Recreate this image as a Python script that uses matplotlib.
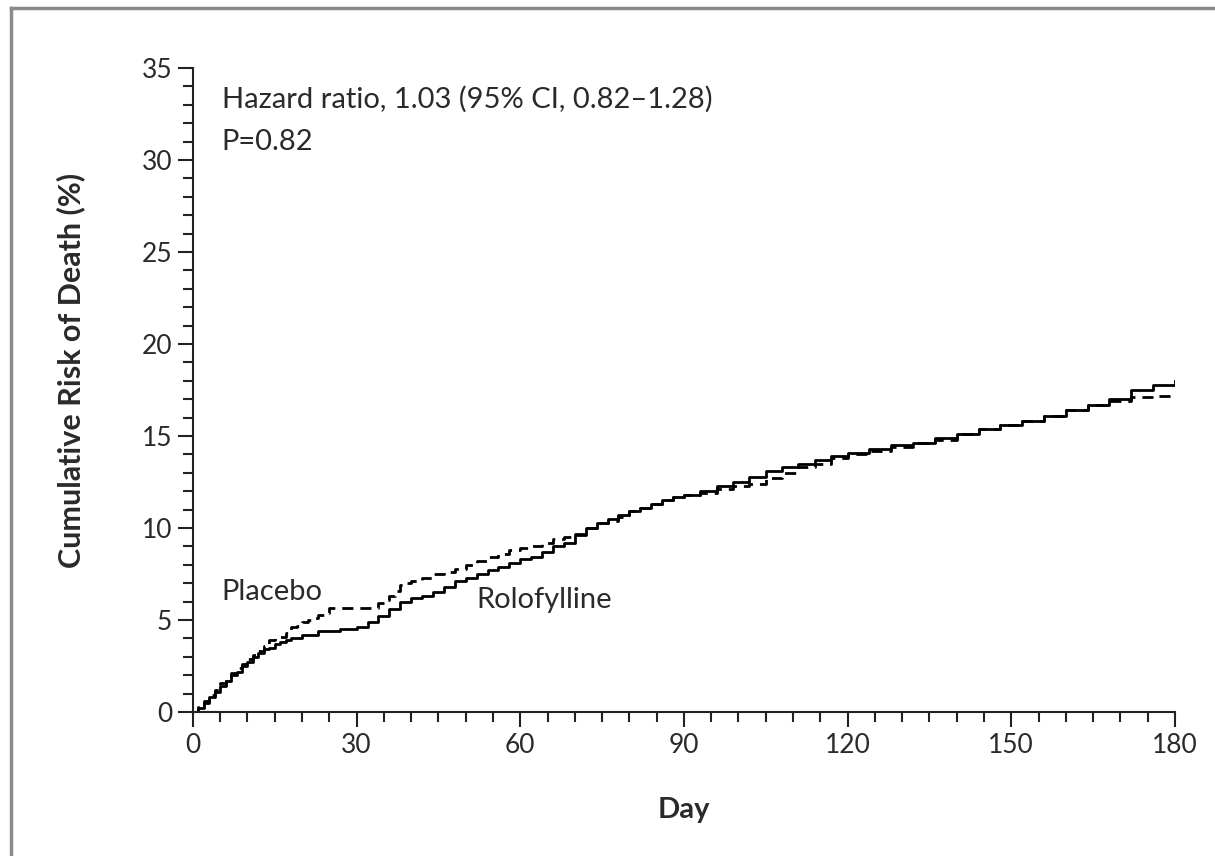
import matplotlib
matplotlib.use("Agg")
import matplotlib.pyplot as plt
from matplotlib.lines import Line2D
from matplotlib.ticker import MultipleLocator

# Placebo (dashed) Kaplan-Meier estimates
placebo_day = [0, 1, 2, 3, 4, 5, 6, 7, 8, 9, 10, 11, 12, 13, 14, 15, 16, 17, 18, 19,
               20, 21, 22, 23, 24, 25, 34, 35, 36, 37, 38, 39, 40, 42, 44, 46, 48, 50,
               52, 54, 56, 58, 60, 62, 64, 66, 68, 70, 72, 74, 76, 78, 80, 82, 84, 86,
               88, 90, 93, 96, 99, 102, 105, 108, 111, 114, 117, 120, 124, 128, 132,
               136, 140, 144, 148, 152, 156, 160, 164, 168, 172, 176, 180]
placebo_risk = [0, 0.3, 0.6, 0.9, 1.2, 1.6, 1.9, 2.1, 2.4, 2.6, 2.9, 3.1, 3.3, 3.6, 3.9,
                4.0, 4.1, 4.3, 4.6, 4.7, 4.9, 5.0, 5.1, 5.3, 5.4, 5.65, 5.9, 6.1, 6.3,
                6.6, 6.9, 7.0, 7.1, 7.3, 7.5, 7.6, 7.8, 8.0, 8.2, 8.4, 8.6, 8.8, 8.9,
                9.0, 9.2, 9.4, 9.5, 9.7, 10.0, 10.3, 10.4, 10.6, 10.9, 11.1, 11.3, 11.5,
                11.7, 11.8, 11.9, 12.1, 12.3, 12.4, 12.7, 13.0, 13.3, 13.5, 13.8, 14.0,
                14.2, 14.4, 14.6, 14.8, 15.1, 15.4, 15.6, 15.8, 16.1, 16.4, 16.7, 16.9,
                17.1, 17.2, 17.3]

# Rolofylline (solid)
rolo_day = [0, 1, 2, 3, 4, 5, 6, 7, 8, 9, 10, 11, 12, 13, 14, 15, 16, 17, 18, 20, 23,
            27, 30, 32, 34, 36, 38, 40, 42, 44, 46, 48, 50, 52, 54, 56, 58, 60, 62, 64,
            66, 68, 70, 72, 74, 76, 78, 80, 82, 84, 86, 88, 90, 93, 96, 99, 102, 105,
            108, 111, 114, 117, 120, 124, 128, 132, 136, 140, 144, 148, 152, 156, 160,
            164, 168, 172, 176, 180]
rolo_risk = [0, 0.2, 0.5, 0.8, 1.1, 1.4, 1.7, 2.0, 2.2, 2.5, 2.7, 3.0, 3.2, 3.4, 3.5,
             3.7, 3.8, 3.9, 4.0, 4.2, 4.4, 4.5, 4.6, 4.9, 5.2, 5.6, 6.0, 6.2, 6.3, 6.5,
             6.8, 7.1, 7.3, 7.5, 7.7, 7.9, 8.1, 8.3, 8.4, 8.7, 9.0, 9.2, 9.6, 10.0, 10.3,
             10.5, 10.7, 10.9, 11.1, 11.3, 11.5, 11.7, 11.8, 12.0, 12.3, 12.5, 12.8, 13.1,
             13.3, 13.5, 13.7, 13.9, 14.1, 14.3, 14.5, 14.6, 14.9, 15.1, 15.4, 15.6, 15.8,
             16.1, 16.4, 16.7, 17.0, 17.5, 17.8, 18.0]

x_ticks = [0, 30, 60, 90, 120, 150, 180]
y_ticks = [0, 5, 10, 15, 20, 25, 30, 35]

text_color = "#2a2a2a"
plt.rcParams["font.family"] = ["Lato", "DejaVu Sans"]

fig = plt.figure(figsize=(12.15, 8.56), dpi=100)
ax = fig.add_axes([0.1588, 0.1682, 0.8082, 0.7523])

ax.step(placebo_day, placebo_risk, where="post", color="black", linewidth=2,
        linestyle=(0, (4, 2.5)))
ax.step(rolo_day, rolo_risk, where="post", color="black", linewidth=2)

ax.set_xlim(0, 180)
ax.set_ylim(0, 35)
ax.set_xticks(x_ticks)
ax.set_yticks(y_ticks)
ax.xaxis.set_minor_locator(MultipleLocator(5))
ax.yaxis.set_minor_locator(MultipleLocator(1))

for side in ["top", "right"]:
    ax.spines[side].set_visible(False)
for side in ["left", "bottom"]:
    ax.spines[side].set_linewidth(1.5)
    ax.spines[side].set_color("#222222")

ax.tick_params(which="major", length=11, width=1.5, color="#222222",
               labelsize=19, labelcolor=text_color, pad=4)
ax.tick_params(which="minor", length=7, width=1.5, color="#222222")

ax.set_xlabel("Day", fontsize=21, fontweight="bold", color=text_color, labelpad=28)
ax.set_ylabel("Cumulative Risk of Death (%)", fontsize=22, fontweight="bold",
              color=text_color)
ax.yaxis.set_label_coords(-0.11, 0.53)

ax.text(5.3, 33.3, "Hazard ratio, 1.03 (95% CI, 0.82\u20131.28)", fontsize=21,
        color=text_color, va="center", ha="left")
ax.text(5.3, 31.0, "P=0.82", fontsize=21, color=text_color, va="center", ha="left")
ax.text(5.3, 6.5, "Placebo", fontsize=21, color=text_color, va="center", ha="left")
ax.text(51.9, 6.1, "Rolofylline", fontsize=21, color=text_color, va="center", ha="left")

# grey frame of the figure panel (only top and left edges are visible)
fig.add_artist(Line2D([11 / 1215, 1.0], [1 - 8 / 856, 1 - 8 / 856],
                      transform=fig.transFigure, color="#8a8a8a", linewidth=2.5))
fig.add_artist(Line2D([11 / 1215, 11 / 1215], [0.0, 1 - 8 / 856],
                      transform=fig.transFigure, color="#8a8a8a", linewidth=2.5))

fig.savefig("out.png", dpi=100)
